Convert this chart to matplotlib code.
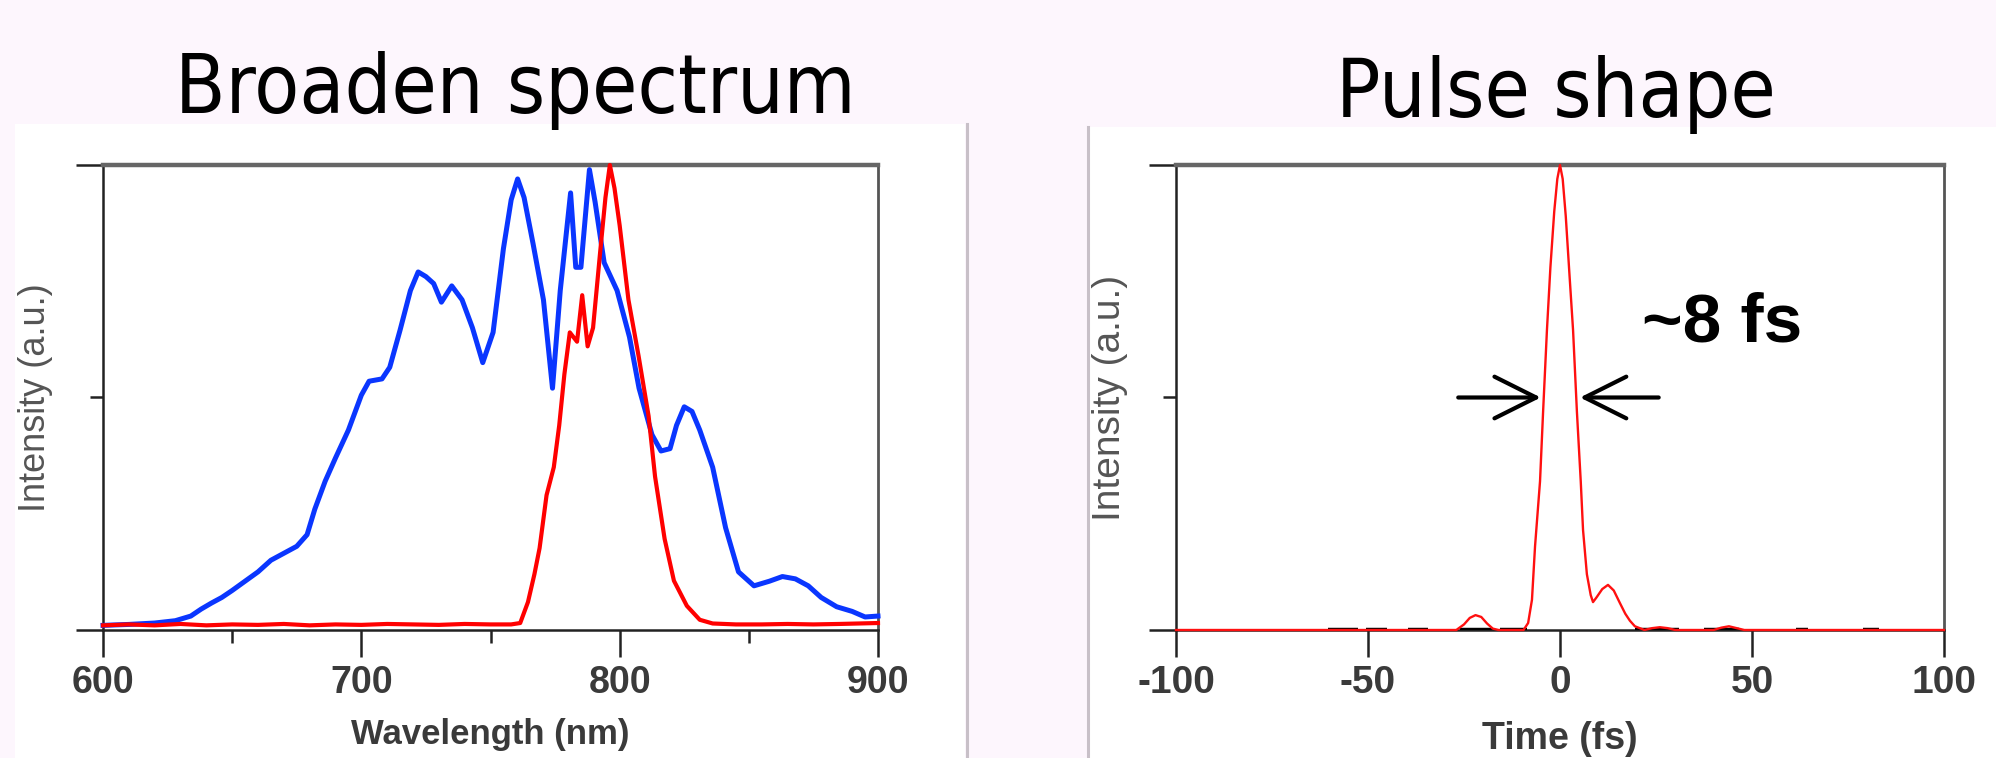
import matplotlib
matplotlib.use('Agg')
import matplotlib.pyplot as plt
from matplotlib import font_manager as fm
from matplotlib.patches import Rectangle
from matplotlib.lines import Line2D

plt.rcParams['font.family'] = ['Liberation Sans', 'DejaVu Sans']

# broadened spectrum (blue)
blue_nm = [600, 610, 620, 628, 634, 638, 642, 646, 650, 655, 660, 665, 670, 675, 679,
           682, 686, 690, 695, 700, 703, 708, 711, 715, 719, 722, 725, 728, 731, 735,
           739, 743, 747, 751, 755, 758, 760.5, 763, 766.5, 770.5, 774, 777, 781, 783,
           785, 788.3, 790.5, 794, 799, 803.8, 807.5, 812.5, 816, 819.5, 822, 825, 828,
           831, 836, 841, 846, 852, 858, 863, 868, 873, 878, 884, 890, 895, 900]
blue_val = [0.01, 0.012, 0.015, 0.02, 0.03, 0.045, 0.058, 0.07, 0.085, 0.105, 0.125, 0.15,
            0.165, 0.18, 0.205, 0.26, 0.32, 0.37, 0.43, 0.505, 0.535, 0.54, 0.565, 0.645,
            0.73, 0.77, 0.76, 0.745, 0.705, 0.74, 0.71, 0.65, 0.575, 0.64, 0.82, 0.925,
            0.97, 0.93, 0.83, 0.71, 0.52, 0.73, 0.94, 0.78, 0.78, 0.99, 0.92, 0.79, 0.73,
            0.63, 0.52, 0.42, 0.385, 0.39, 0.44, 0.48, 0.47, 0.43, 0.35, 0.22, 0.125,
            0.095, 0.105, 0.115, 0.11, 0.095, 0.07, 0.05, 0.04, 0.028, 0.03]

# input spectrum (red)
red_nm = [600, 610, 620, 630, 640, 650, 660, 670, 680, 690, 700, 710, 720, 730, 740, 750,
          758, 761.5, 764.5, 767, 769, 771.7, 774.5, 776.6, 778.6, 780.7, 783.5, 785.5,
          787.6, 789.7, 792.4, 794.5, 796.2, 798, 800, 803.4, 807.3, 811.2, 813.7, 817.4,
          821, 826, 831, 836, 845, 855, 865, 875, 885, 900]
red_val = [0.01, 0.012, 0.01, 0.013, 0.01, 0.012, 0.011, 0.013, 0.01, 0.012, 0.011, 0.013,
           0.012, 0.011, 0.013, 0.012, 0.012, 0.015, 0.06, 0.12, 0.176, 0.29, 0.35, 0.44,
           0.55, 0.64, 0.62, 0.72, 0.61, 0.65, 0.81, 0.93, 1.0, 0.95, 0.87, 0.71, 0.59,
           0.46, 0.33, 0.196, 0.106, 0.052, 0.022, 0.014, 0.012, 0.012, 0.013, 0.012,
           0.013, 0.015]

# pulse intensity vs time
pulse_t = [-100, -60, -30, -27, -25, -23.5, -22, -20.5, -19, -17.5, -16, -12, -9.5, -8.3,
           -7.3, -6.5, -5.2, -4.4, -3.4, -2.5, -1.5, -0.7, 0, 0.7, 1.5, 2.5, 3.4, 4.4, 5.4,
           6.0, 7.0, 8.0, 8.6, 9.5, 11, 12.5, 14, 15.6, 17, 18.2, 19.5, 22, 24, 26, 28, 30,
           40, 42, 44, 46, 48, 100]
pulse_val = [0, 0, 0, 0, 0.012, 0.026, 0.032, 0.028, 0.014, 0.003, 0, 0, 0, 0.015, 0.065,
             0.18, 0.32, 0.47, 0.645, 0.78, 0.9, 0.97, 1.0, 0.97, 0.89, 0.76, 0.645, 0.47,
             0.32, 0.215, 0.12, 0.075, 0.06, 0.07, 0.088, 0.097, 0.085, 0.058, 0.035, 0.02,
             0.008, 0, 0.004, 0.006, 0.004, 0, 0, 0.005, 0.008, 0.004, 0, 0]

# short black pieces of the second trace showing on the baseline
black_pieces = [(-60.5, -52.5), (-50.5, -45), (-39.5, -34.5), (-26, -17.5), (-15.5, -8.5),
                (19.5, 31), (37.5, 46.5), (61.5, 64.5), (79, 83)]

W, H = 1996, 758
fig = plt.figure(figsize=(W / 100, H / 100), dpi=100, facecolor='#FDF6FD')

# white panels and divider lines
fig.add_artist(Rectangle((15 / W, 0), (965 - 15) / W, 1 - 124 / H, transform=fig.transFigure,
                         facecolor='white', edgecolor='none', zorder=-2))
fig.add_artist(Rectangle((1090 / W, 0), (W - 1090) / W, 1 - 127 / H, transform=fig.transFigure,
                         facecolor='white', edgecolor='none', zorder=-2))
fig.add_artist(Line2D([967 / W, 967 / W], [0, 1 - 124 / H], transform=fig.transFigure,
                      color='#C8C0C8', lw=2.2, zorder=-1))
fig.add_artist(Line2D([1088 / W, 1088 / W], [0, 1 - 127 / H], transform=fig.transFigure,
                      color='#C8C0C8', lw=2.2, zorder=-1))

# title font: condensed if there is one
cond = fm.FontProperties(family='DejaVu Sans', stretch='condensed')
if 'Condensed' in fm.findfont(cond):
    tprops = dict(family='DejaVu Sans', fontstretch='condensed', fontsize=59)
else:
    tprops = dict(family='DejaVu Sans', fontsize=53)

fig.text(515 / W, 1 - 113 / H, 'Broaden spectrum', ha='center', va='baseline', **tprops)
fig.text(1556 / W, 1 - 117 / H, 'Pulse shape', ha='center', va='baseline', **tprops)

ax1 = fig.add_axes([103 / W, 1 - 630 / H, 775 / W, 465 / H])
ax2 = fig.add_axes([1176 / W, 1 - 630 / H, 768 / W, 465 / H])

ink = '#3a3a3a'


def style(ax, fs):
    ax.set_ylim(0, 1)
    ax.set_yticks([0, 1])
    ax.set_yticks([0.5], minor=True)
    ax.tick_params(which='both', direction='out', width=1.8, color='#222',
                   labelleft=False, labelsize=fs, pad=6, labelcolor=ink)
    ax.tick_params(which='major', length=19.5)
    ax.tick_params(which='minor', length=9.5)
    for lab in ax.get_xticklabels():
        lab.set_fontweight('bold')
    for s in ['left', 'bottom']:
        ax.spines[s].set_linewidth(1.8)
        ax.spines[s].set_color('#222')
    ax.spines['right'].set_linewidth(2.0)
    ax.spines['right'].set_color('#555')
    ax.spines['top'].set_linewidth(3.2)
    ax.spines['top'].set_color('#666')


ax1.set_xlim(600, 900)
ax1.set_xticks([600, 700, 800, 900])
ax1.set_xticks([650, 750, 850], minor=True)
style(ax1, 27)
ax1.plot(blue_nm, blue_val, color='#0A36FF', lw=3.6, zorder=3, clip_on=False)
ax1.plot(red_nm, red_val, color='#FF0000', lw=3.0, zorder=4, clip_on=False)
ax1.set_xlabel('Wavelength (nm)', fontsize=25, va='top', fontweight='bold', color=ink)
ax1.xaxis.set_label_coords(0.5, -0.189)
ax1.set_ylabel('Intensity (a.u.)', fontsize=26, color='#555')
ax1.yaxis.set_label_coords(-0.065, 0.5)

ax2.set_xlim(-100, 100)
ax2.set_xticks([-100, -50, 0, 50, 100], ['-100', '-50', '0', '50', '100'])
style(ax2, 28)
for a, b in black_pieces:
    ax2.plot([a, b], [0, 0], color='black', lw=3.2, zorder=3, solid_capstyle='butt')
ax2.plot(pulse_t, pulse_val, color='#FF1010', lw=1.7, zorder=4, clip_on=False)
ax2.set_xlabel('Time (fs)', fontsize=27, va='top', fontweight='bold', color=ink)
ax2.xaxis.set_label_coords(0.5, -0.196)
ax2.set_ylabel('Intensity (a.u.)', fontsize=28, color='#555')
ax2.yaxis.set_label_coords(-0.0625, 0.5)

arrow = dict(arrowstyle='->,head_length=1.5,head_width=0.75', lw=3.0, color='black',
             mutation_scale=20, shrinkA=0, shrinkB=0)
ax2.annotate('', xy=(-5.0, 0.5), xytext=(-26.5, 0.5), arrowprops=arrow)
ax2.annotate('', xy=(5.2, 0.5), xytext=(25.7, 0.5), arrowprops=arrow)
ax2.text(21.4, 0.66, '~8 fs', ha='left', va='center', fontsize=50, fontweight='bold')

fig.savefig('out.png', dpi=100, facecolor=fig.get_facecolor())
